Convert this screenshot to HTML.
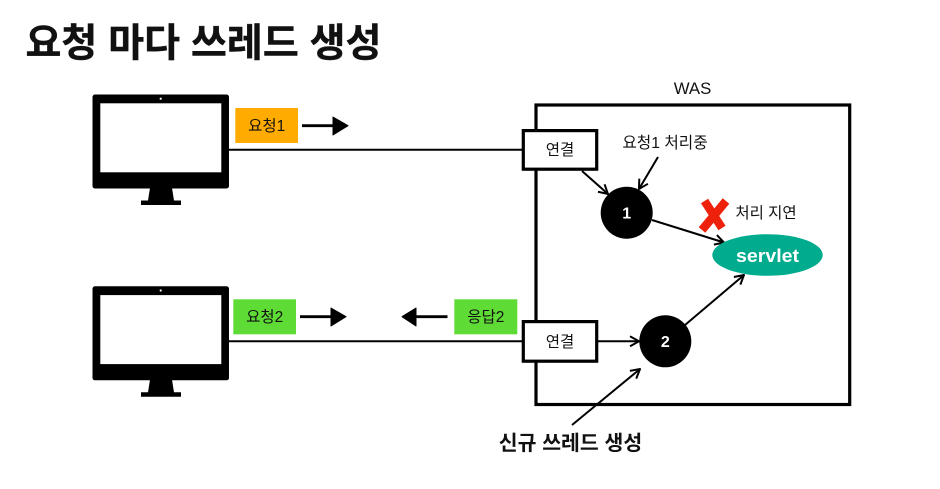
<!DOCTYPE html>
<html><head><meta charset="utf-8">
<style>
html,body{margin:0;padding:0;background:#fff;width:940px;height:489px;overflow:hidden}
svg{display:block}
text{font-family:"Liberation Sans","Noto Sans CJK KR",sans-serif;fill:#111}
</style></head><body>
<svg width="940" height="489" viewBox="0 0 940 489" xmlns="http://www.w3.org/2000/svg">
<defs>
<g id="mon">
<rect x="92.5" y="94.5" width="136.5" height="94" rx="2.5" fill="#000"/>
<rect x="100.3" y="103.3" width="121" height="69" fill="#fff"/>
<circle cx="160.7" cy="98.7" r="1.1" fill="#fff"/>
<path d="M150 188L172 188L174 200.5L181 200.5L181 205L141 205L141 200.5L148 200.5Z" fill="#000"/>
</g>
<marker id="a" viewBox="0 0 12 12" refX="11" refY="6" markerWidth="12" markerHeight="12" markerUnits="userSpaceOnUse" orient="auto">
<path d="M2 1L11 6L2 11" fill="none" stroke="#000" stroke-width="2"/>
</marker>
</defs>

<text x="25.5" y="56.5" font-size="39" font-weight="700" textLength="356" lengthAdjust="spacing" stroke="#111" stroke-width="0.4">요청 마다 쓰레드 생성</text>

<use href="#mon"/>
<use href="#mon" y="191.8"/>

<rect x="536" y="105" width="313.7" height="299.5" fill="none" stroke="#000" stroke-width="3.2"/>
<text x="692.5" y="94" font-size="16.8" text-anchor="middle">WAS</text>

<line x1="229" y1="149.7" x2="523" y2="149.7" stroke="#000" stroke-width="2"/>
<line x1="229" y1="341.3" x2="523" y2="341.3" stroke="#000" stroke-width="2"/>

<rect x="235.3" y="108" width="62.7" height="35" fill="#ffab00"/>
<text x="266.7" y="131" font-size="15.5" text-anchor="middle">요청1</text>
<rect x="233.3" y="299.3" width="62.7" height="35" fill="#5fdb36"/>
<text x="264.7" y="322" font-size="15.5" text-anchor="middle">요청2</text>
<rect x="454.3" y="299.3" width="63" height="35" fill="#5fdb36"/>
<text x="485.8" y="322" font-size="15.5" text-anchor="middle">응답2</text>

<line x1="302" y1="125.7" x2="336" y2="125.7" stroke="#000" stroke-width="2.8"/>
<path d="M333 117L348 125.7L333 135Z" fill="#000" stroke="#000" stroke-linejoin="round"/>
<line x1="300" y1="316.7" x2="334" y2="316.7" stroke="#000" stroke-width="2.8"/>
<path d="M331 308L346 316.7L331 326Z" fill="#000" stroke="#000" stroke-linejoin="round"/>
<line x1="447.5" y1="316.7" x2="413" y2="316.7" stroke="#000" stroke-width="2.8"/>
<path d="M416 308L402 316.7L416 326Z" fill="#000" stroke="#000" stroke-linejoin="round"/>

<rect x="523.3" y="130.6" width="73.4" height="38.6" fill="#fff" stroke="#000" stroke-width="3.2"/>
<text x="560" y="155" font-size="15.5" text-anchor="middle">연결</text>
<rect x="523.3" y="321.6" width="73.4" height="39.6" fill="#fff" stroke="#000" stroke-width="3.2"/>
<text x="560" y="347" font-size="15.5" text-anchor="middle">연결</text>

<line x1="582" y1="171" x2="608" y2="194" stroke="#000" stroke-width="2" marker-end="url(#a)"/>
<line x1="658" y1="157" x2="639" y2="189" stroke="#000" stroke-width="2" marker-end="url(#a)"/>
<line x1="652" y1="220" x2="724" y2="242.5" stroke="#000" stroke-width="2" marker-end="url(#a)"/>
<line x1="597" y1="341.3" x2="639" y2="341.3" stroke="#000" stroke-width="2" marker-end="url(#a)"/>
<line x1="685" y1="325" x2="744" y2="275" stroke="#000" stroke-width="2" marker-end="url(#a)"/>
<line x1="572" y1="425" x2="640" y2="369" stroke="#000" stroke-width="2" marker-end="url(#a)"/>

<circle cx="626.7" cy="212.7" r="26" fill="#000"/>
<text x="626.7" y="218.6" font-size="16" text-anchor="middle" font-weight="700" style="fill:#fff">1</text>
<circle cx="665.3" cy="341.3" r="26" fill="#000"/>
<text x="665.3" y="347" font-size="16" text-anchor="middle" font-weight="700" style="fill:#fff">2</text>

<ellipse cx="767.5" cy="255" rx="55.2" ry="20.8" fill="#00ab8e"/>
<text x="736" y="262" font-size="18.5" font-weight="700" textLength="63" lengthAdjust="spacingAndGlyphs" style="fill:#fff">servlet</text>

<line x1="704.5" y1="201" x2="722" y2="228" stroke="#ee220c" stroke-width="8.5"/>
<line x1="726" y1="201" x2="702" y2="230" stroke="#ee220c" stroke-width="8.5"/>

<text x="665" y="148" font-size="15.7" text-anchor="middle">요청1 처리중</text>
<text x="766" y="218" font-size="15.5" text-anchor="middle">처리 지연</text>
<text x="570.5" y="450" font-size="20.5" font-weight="700" text-anchor="middle">신규 쓰레드 생성</text>
</svg>
</body></html>
